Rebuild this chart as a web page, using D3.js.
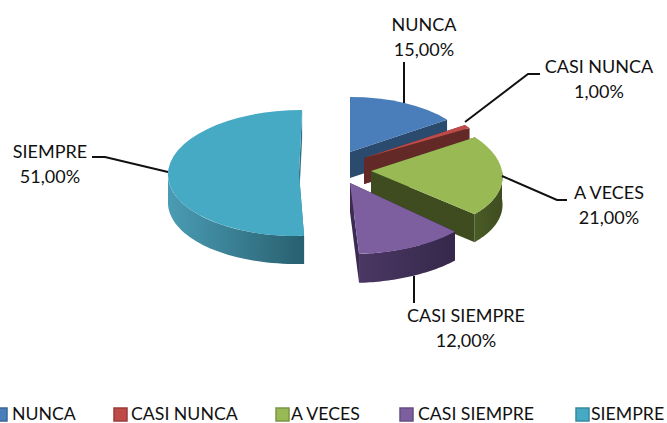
<!DOCTYPE html>
<html>
<head>
<meta charset="utf-8">
<script src="https://d3js.org/d3.v7.min.js"></script>
<style>
  html, body { margin: 0; padding: 0; background: #fff; }
  svg { display: block; }
  text { font-family: Lato, "Open Sans", sans-serif; fill: #111; }
</style>
</head>
<body>
<svg id="chart" width="667" height="423"></svg>
<script>
const categories = ["NUNCA", "CASI NUNCA", "A VECES", "CASI SIEMPRE", "SIEMPRE"];
const percents = [15, 1, 21, 12, 51];

// look of each slice, same order as categories
const topColors = ["#4a7ebb", "#be4b48", "#98b954", "#7d5fa0", "#46aac5"];
const cutColors = ["#2a4a6e", "#632926", "#3f4c20", "#3a2b50", "#2f7086"];
const wallLeft = ["#2a4a6e", "#8c3836", "#4a5c26", "#4a3763", "#4a9cb4"];
const wallRight = ["#2a4a6e", "#632926", "#3f4c20", "#35284a", "#28606f"];

// exploded position of each slice, drawn squashed to fake the 3d tilt
const centerX = [350, 364, 371, 350, 299];
const centerY = [152, 158, 171, 183, 173];
const radiusX = [120, 125, 131, 144, 131];
const radiusY = [55, 56, 63, 71, 63];
const depth = [26, 26, 28, 29, 28];
const skew = [0, 0, 0.19, 0, -0.05];

// leader lines and labels
const leaders = [
  [[404, 62], [404, 103]],
  [[540, 74], [528, 74], [465, 122]],
  [[567, 200], [557, 200], [502, 176]],
  [[414, 303], [414, 276]],
  [[92, 157], [105, 157], [168, 172]]
];
const labelX = [424, 599, 609, 466, 50];
const labelY = [31, 73, 199, 322, 158];

// legend
const legendBoxX = [-7, 113, 275, 399, 575];
const legendTextX = [12, 131, 291, 418, 591];

const svg = d3.select("#chart");
const defs = svg.append("defs");
const pct = d3.formatLocale({ decimal: ",", thousands: ".", grouping: [3], currency: ["", ""] }).format(".2f");

const pie = d3.pie().value(d => d).sort(null);
const slices = pie(percents);
const arc = d3.arc().innerRadius(0).outerRadius(1);
const line = d3.line();

slices.forEach((s, i) => {
  const g = svg.append("g");
  const px = a => centerX[i] + radiusX[i] * Math.sin(a) - skew[i] * radiusY[i] * Math.cos(a);
  const py = a => centerY[i] - radiusY[i] * Math.cos(a);
  const apex = [centerX[i], centerY[i]];
  const d = depth[i];

  // the two cut faces
  [s.startAngle, s.endAngle].forEach(a => {
    g.append("path")
      .attr("d", line([apex, [px(a), py(a)], [px(a), py(a) + d], [apex[0], apex[1] + d]]) + "Z")
      .attr("fill", cutColors[i]);
  });

  // outer wall, only the part that faces the viewer
  const from = Math.max(s.startAngle, Math.PI / 2);
  const to = Math.min(s.endAngle, Math.PI * 1.5);
  if (to > from) {
    const steps = d3.range(0, 41).map(k => from + (to - from) * k / 40);
    const upper = steps.map(a => [px(a), py(a)]);
    const lower = steps.slice().reverse().map(a => [px(a), py(a) + d]);
    const gradId = "wall" + i;
    const grad = defs.append("linearGradient").attr("id", gradId);
    grad.append("stop").attr("offset", "0%").attr("stop-color", wallLeft[i]);
    grad.append("stop").attr("offset", "100%").attr("stop-color", wallRight[i]);
    g.append("path")
      .attr("d", line(upper.concat(lower)) + "Z")
      .attr("fill", `url(#${gradId})`);
  }

  // top face
  g.append("path")
    .attr("d", arc(s))
    .attr("transform", `matrix(${radiusX[i]},0,${skew[i] * radiusY[i]},${radiusY[i]},${centerX[i]},${centerY[i]})`)
    .attr("fill", topColors[i]);
});

// leader lines go over the pie
svg.append("g").selectAll("path")
  .data(leaders)
  .join("path")
  .attr("d", d => line(d))
  .attr("fill", "none")
  .attr("stroke", "#111")
  .attr("stroke-width", 2);

// data labels, two lines each
const labels = svg.append("g").selectAll("text")
  .data(categories)
  .join("text")
  .attr("text-anchor", "middle")
  .attr("font-size", 18)
  .attr("x", (d, i) => labelX[i])
  .attr("y", (d, i) => labelY[i]);
labels.append("tspan").attr("x", (d, i) => labelX[i]).text(d => d);
labels.append("tspan").attr("x", (d, i) => labelX[i]).attr("dy", 25).text((d, i) => pct(percents[i]) + "%");

// legend
const legend = svg.append("g").selectAll("g")
  .data(categories)
  .join("g");
legend.append("rect")
  .attr("x", (d, i) => legendBoxX[i] + 1)
  .attr("y", 408)
  .attr("width", 13)
  .attr("height", 13)
  .attr("fill", (d, i) => topColors[i])
  .attr("stroke", (d, i) => d3.color(topColors[i]).darker(0.6))
  .attr("stroke-width", 1.5);
legend.append("text")
  .attr("x", (d, i) => legendTextX[i])
  .attr("y", 420)
  .attr("font-size", 17.7)
  .text(d => d);
</script>
</body>
</html>
